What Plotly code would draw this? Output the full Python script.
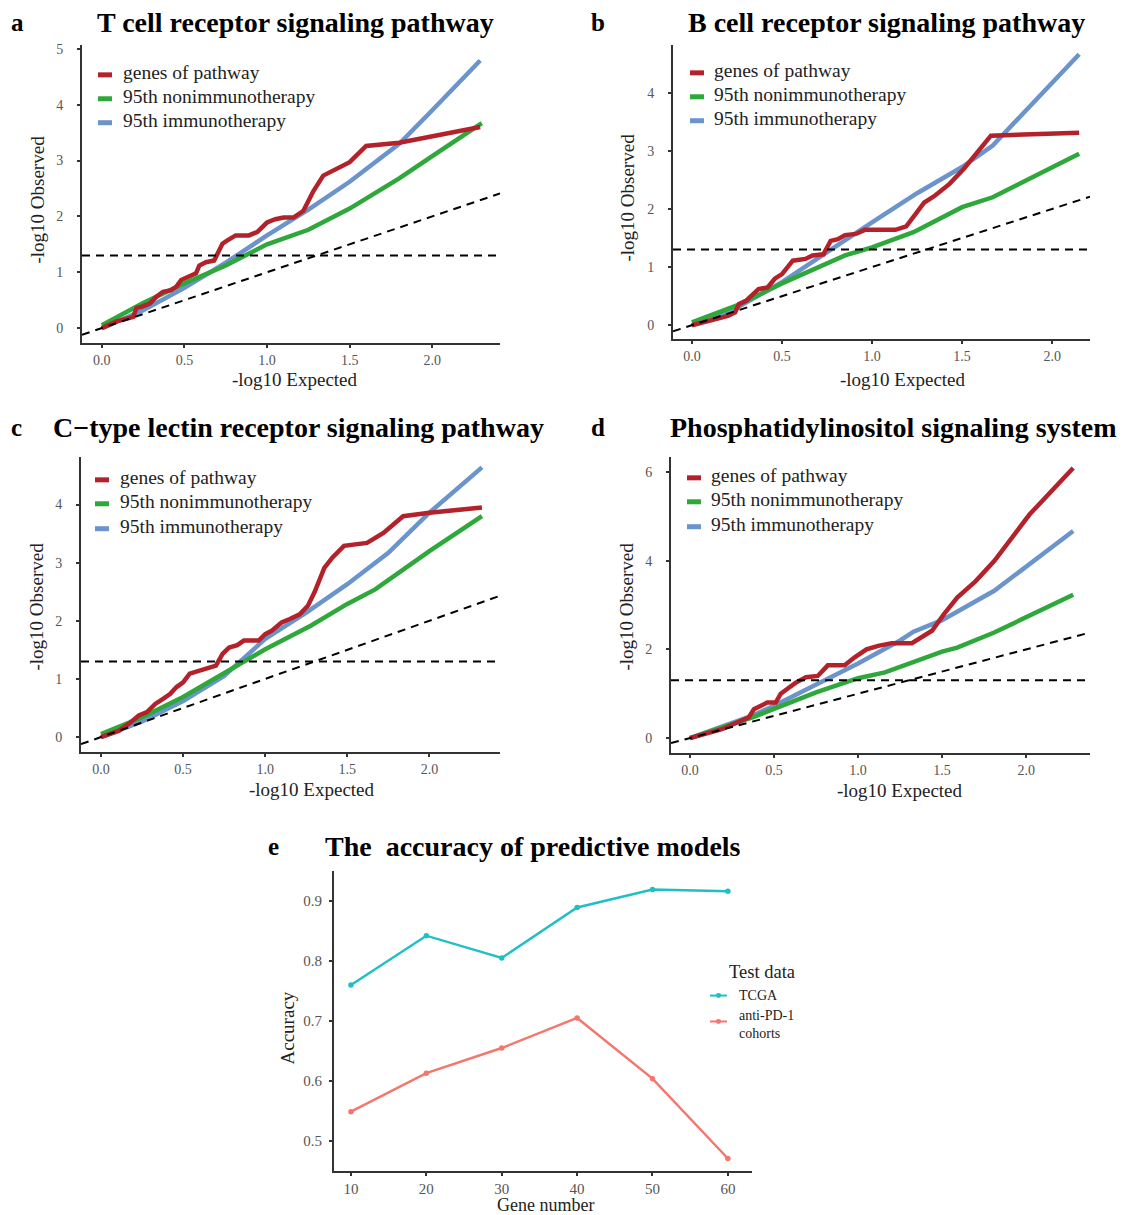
import math
import plotly.graph_objects as go

# page offset of the plot div (default body margin of the html page)
OFF = 8
W, H = 1126 - OFF, 1215 - OFF
FONT = "Liberation Serif"

# ---------------- data ----------------
series_names = ["genes of pathway", "95th nonimmunotherapy", "95th immunotherapy"]
tick_qq = [0.0, 0.5, 1.0, 1.5, 2.0]
sig_level = -math.log10(0.05)

# Panel a: T cell receptor signaling pathway
a_red_x = [0, 0.09, 0.19, 0.21, 0.24, 0.29, 0.33, 0.37, 0.42, 0.45, 0.48, 0.53, 0.57, 0.59, 0.63, 0.68,
           0.71, 0.73, 0.76, 0.81, 0.89, 0.94, 1.0, 1.05, 1.1, 1.16, 1.22, 1.28, 1.34, 1.45, 1.5, 1.6, 1.8, 2.29]
a_red_y = [0, 0.12, 0.2, 0.36, 0.38, 0.44, 0.56, 0.65, 0.68, 0.74, 0.86, 0.92, 0.98, 1.12, 1.18, 1.21,
           1.42, 1.51, 1.57, 1.66, 1.66, 1.72, 1.89, 1.95, 1.98, 1.98, 2.1, 2.45, 2.73, 2.88, 2.97, 3.26, 3.32, 3.6]
a_green_x = [0, 0.25, 0.5, 0.75, 1.0, 1.25, 1.5, 1.6, 1.8, 2.0, 2.3]
a_green_y = [0.05, 0.45, 0.8, 1.12, 1.5, 1.76, 2.14, 2.32, 2.68, 3.08, 3.67]
a_blue_x = [0, 0.25, 0.5, 0.75, 1.0, 1.25, 1.5, 1.6, 1.8, 2.0, 2.29]
a_blue_y = [0, 0.32, 0.72, 1.17, 1.66, 2.12, 2.62, 2.85, 3.3, 3.9, 4.79]

# Panel b: B cell receptor signaling pathway
b_red_x = [0, 0.1, 0.2, 0.24, 0.26, 0.3, 0.34, 0.37, 0.42, 0.46, 0.5, 0.56, 0.63, 0.67, 0.73, 0.77,
           0.81, 0.85, 0.91, 0.96, 1.07, 1.13, 1.19, 1.25, 1.29, 1.35, 1.43, 1.51, 1.59, 1.66, 2.15]
b_red_y = [0, 0.075, 0.16, 0.22, 0.36, 0.42, 0.53, 0.62, 0.65, 0.8, 0.88, 1.11, 1.14, 1.2, 1.22, 1.45,
           1.48, 1.55, 1.57, 1.64, 1.64, 1.64, 1.7, 1.94, 2.11, 2.23, 2.43, 2.69, 2.98, 3.26, 3.31]
b_green_x = [0, 0.25, 0.5, 0.85, 1.0, 1.23, 1.5, 1.67, 2.15]
b_green_y = [0.05, 0.34, 0.72, 1.2, 1.34, 1.6, 2.03, 2.2, 2.95]
b_blue_x = [0, 0.25, 0.5, 0.75, 1.0, 1.25, 1.5, 1.67, 2.15]
b_blue_y = [0, 0.3, 0.74, 1.26, 1.77, 2.27, 2.72, 3.09, 4.66]

# Panel c: C-type lectin receptor signaling pathway
c_red_x = [0, 0.11, 0.17, 0.23, 0.28, 0.33, 0.38, 0.42, 0.46, 0.5, 0.54, 0.6, 0.65, 0.7, 0.74, 0.78,
           0.83, 0.87, 0.96, 1.0, 1.04, 1.1, 1.15, 1.21, 1.26, 1.3, 1.36, 1.41, 1.48, 1.62, 1.72, 1.84, 2.0, 2.32]
c_red_y = [0, 0.11, 0.23, 0.37, 0.43, 0.57, 0.66, 0.74, 0.86, 0.94, 1.09, 1.15, 1.2, 1.23, 1.43, 1.54,
           1.58, 1.66, 1.66, 1.77, 1.83, 1.97, 2.03, 2.11, 2.26, 2.49, 2.91, 3.09, 3.29, 3.34, 3.51, 3.8, 3.86, 3.95]
c_green_x = [0, 0.25, 0.5, 0.75, 1.0, 1.28, 1.5, 1.67, 2.0, 2.32]
c_green_y = [0.05, 0.34, 0.69, 1.09, 1.51, 1.92, 2.29, 2.54, 3.2, 3.8]
c_blue_x = [0, 0.25, 0.5, 0.75, 1.0, 1.25, 1.5, 1.75, 2.0, 2.32]
c_blue_y = [0, 0.27, 0.62, 1.05, 1.69, 2.14, 2.63, 3.17, 3.86, 4.64]

# Panel d: Phosphatidylinositol signaling system
d_red_x = [0, 0.09, 0.19, 0.28, 0.35, 0.38, 0.42, 0.46, 0.51, 0.54, 0.59, 0.63, 0.69, 0.76, 0.82, 0.92,
           0.98, 1.05, 1.12, 1.2, 1.32, 1.38, 1.44, 1.51, 1.59, 1.7, 1.81, 2.02, 2.28]
d_red_y = [0, 0.09, 0.2, 0.35, 0.47, 0.65, 0.73, 0.8, 0.8, 1.0, 1.14, 1.25, 1.37, 1.4, 1.64, 1.64,
           1.82, 2.0, 2.08, 2.14, 2.14, 2.27, 2.42, 2.79, 3.17, 3.54, 3.99, 5.04, 6.09]
d_green_x = [0, 0.38, 0.5, 0.75, 1.0, 1.16, 1.5, 1.59, 1.81, 2.28]
d_green_y = [0, 0.48, 0.66, 1.03, 1.35, 1.48, 1.95, 2.04, 2.38, 3.23]
d_blue_x = [0, 0.38, 0.5, 0.75, 1.0, 1.25, 1.33, 1.5, 1.81, 2.28]
d_blue_y = [0, 0.52, 0.73, 1.2, 1.68, 2.2, 2.4, 2.66, 3.32, 4.67]

# Panel e: accuracy of predictive models
gene_number = [10, 20, 30, 40, 50, 60]
acc_tcga = [0.760, 0.842, 0.805, 0.889, 0.919, 0.916]
acc_pd1 = [0.549, 0.613, 0.655, 0.705, 0.604, 0.471]
acc_ticks = [0.5, 0.6, 0.7, 0.8, 0.9]

# ---------------- styling ----------------
RED, GREEN, BLUE = "#B3222A", "#2EA83A", "#6C94CC"
TEAL, SALMON = "#1FBFC4", "#F4766D"
AXC = "#333333"


def px(x):
    return (x - OFF) / W


def py(y):
    return 1 - (y - OFF) / H


panels = [
    dict(letter="a", title="T cell receptor signaling pathway", lx=17, tcx=295, ty=20,
         dx=(82, 500), dy=(341, 42), xr=(-0.12, 2.41), yr=(-0.27, 5.07), yt=[0, 1, 2, 3, 4, 5],
         data=[(a_blue_x, a_blue_y), (a_green_x, a_green_y), (a_red_x, a_red_y)],
         leg=(98, 112, 121, [70, 94, 118]), obs=(38, 197), expd=(295, 377)),
    dict(letter="b", title="B cell receptor signaling pathway", lx=598, tcx=886, ty=20,
         dx=(673, 1090), dy=(337, 42), xr=(-0.105, 2.21), yr=(-0.24, 4.82), yt=[0, 1, 2, 3, 4],
         data=[(b_blue_x, b_blue_y), (b_green_x, b_green_y), (b_red_x, b_red_y)],
         leg=(690, 704, 712, [68, 92, 116]), obs=(628, 195), expd=(903, 377)),
    dict(letter="c", title="C\u2212type lectin receptor signaling pathway", lx=16, tcx=298, ty=426,
         dx=(81, 500), dy=(751, 455), xr=(-0.122, 2.43), yr=(-0.26, 4.82), yt=[0, 1, 2, 3, 4],
         data=[(c_blue_x, c_blue_y), (c_green_x, c_green_y), (c_red_x, c_red_y)],
         leg=(95, 109, 118, [476, 500, 525]), obs=(37, 605), expd=(312, 788)),
    dict(letter="d", title="Phosphatidylinositol signaling system", lx=598, tcx=893, ty=426,
         dx=(671, 1090), dy=(752, 455), xr=(-0.113, 2.38), yr=(-0.34, 6.34), yt=[0, 2, 4, 6],
         data=[(d_blue_x, d_blue_y), (d_green_x, d_green_y), (d_red_x, d_red_y)],
         leg=(687, 701, 709, [474, 498, 523]), obs=(627, 605), expd=(900, 789)),
]

fig = go.Figure()
layout = dict(width=W, height=H, autosize=False, margin=dict(l=0, r=0, t=0, b=0, pad=0),
              paper_bgcolor="white", plot_bgcolor="white", showlegend=False,
              font=dict(family=FONT, color="#222"))
shapes, annotations = [], []

axis_common = dict(showline=True, linecolor=AXC, linewidth=2, ticks="outside", ticklen=3,
                   tickcolor=AXC, tickwidth=1.5, showgrid=False, zeroline=False,
                   tickfont=dict(family=FONT, size=14, color="#555555"))

line_colors = [BLUE, GREEN, RED]
TITLE_SIZE, LETTER_SIZE, LEG_SIZE, AX_SIZE = 28, 25, 19.5, 19

for i, p in enumerate(panels, start=1):
    xa = "x" if i == 1 else f"x{i}"
    ya = "y" if i == 1 else f"y{i}"
    layout["xaxis" if i == 1 else f"xaxis{i}"] = dict(
        axis_common, domain=[px(p["dx"][0]), px(p["dx"][1])], range=list(p["xr"]),
        anchor=ya, tickvals=tick_qq, tickformat=".1f", ticklabelstandoff=0)
    layout["yaxis" if i == 1 else f"yaxis{i}"] = dict(
        axis_common, domain=[py(p["dy"][0]), py(p["dy"][1])], range=list(p["yr"]),
        anchor=xa, tickvals=p["yt"], ticklabelstandoff=11)
    for (xs, ys), col in zip(p["data"], line_colors):
        fig.add_trace(go.Scatter(x=xs, y=ys, mode="lines", xaxis=xa, yaxis=ya,
                                 line=dict(color=col, width=4.5), hoverinfo="skip"))
    # reference lines
    fig.add_trace(go.Scatter(x=list(p["xr"]), y=[sig_level, sig_level], mode="lines", xaxis=xa, yaxis=ya,
                             line=dict(color="black", width=2, dash="8px,6px"), hoverinfo="skip"))
    fig.add_trace(go.Scatter(x=list(p["xr"]), y=list(p["xr"]), mode="lines", xaxis=xa, yaxis=ya,
                             line=dict(color="black", width=2, dash="8px,6px"), hoverinfo="skip"))
    # titles
    annotations.append(dict(x=px(p["lx"]), y=py(p["ty"]), xref="paper", yref="paper", text=f"<b>{p['letter']}</b>",
                            showarrow=False, xanchor="center", yanchor="middle",
                            font=dict(family=FONT, size=LETTER_SIZE, color="black")))
    annotations.append(dict(x=px(p["tcx"]), y=py(p["ty"]), xref="paper", yref="paper", text=f"<b>{p['title']}</b>",
                            showarrow=False, xanchor="center", yanchor="middle",
                            font=dict(family=FONT, size=TITLE_SIZE, color="black")))
    # axis titles
    annotations.append(dict(x=px(p["obs"][0]), y=py(p["obs"][1]), xref="paper", yref="paper",
                            text="-log10 Observed", textangle=-90, showarrow=False,
                            xanchor="center", yanchor="middle", font=dict(family=FONT, size=AX_SIZE, color="#222")))
    annotations.append(dict(x=px(p["expd"][0]), y=py(p["expd"][1]), xref="paper", yref="paper",
                            text="-log10 Expected", showarrow=False,
                            xanchor="center", yanchor="middle", font=dict(family=FONT, size=AX_SIZE, color="#222")))
    # legend
    k0, k1, tx, rows = p["leg"]
    for name, col, ry in zip(series_names, [RED, GREEN, BLUE], rows):
        shapes.append(dict(type="line", xref="paper", yref="paper", x0=px(k0), x1=px(k1),
                           y0=py(ry + 2), y1=py(ry + 2), line=dict(color=col, width=5)))
        annotations.append(dict(x=px(tx), y=py(ry), xref="paper", yref="paper", text=name, showarrow=False,
                                xanchor="left", yanchor="middle", font=dict(family=FONT, size=LEG_SIZE, color="#222")))

# Panel e
layout["xaxis5"] = dict(axis_common, domain=[px(334), px(752)], range=[7.75, 63.2], anchor="y5",
                        tickvals=gene_number, ticklabelstandoff=0,
                        tickfont=dict(family=FONT, size=15, color="#555555"))
layout["yaxis5"] = dict(axis_common, domain=[py(1171), py(870)], range=[0.45, 0.95], anchor="x5",
                        tickvals=acc_ticks, tickformat=".1f", ticklabelstandoff=4,
                        tickfont=dict(family=FONT, size=15, color="#555555"))
fig.add_trace(go.Scatter(x=gene_number, y=acc_tcga, mode="lines+markers", xaxis="x5", yaxis="y5",
                         line=dict(color=TEAL, width=2.4), marker=dict(color=TEAL, size=5.5), name="TCGA"))
fig.add_trace(go.Scatter(x=gene_number, y=acc_pd1, mode="lines+markers", xaxis="x5", yaxis="y5",
                         line=dict(color=SALMON, width=2.4), marker=dict(color=SALMON, size=5.5),
                         name="anti-PD-1 cohorts"))
annotations.append(dict(x=px(273), y=py(846), xref="paper", yref="paper", text="<b>e</b>", showarrow=False,
                        xanchor="center", yanchor="middle", font=dict(family=FONT, size=LETTER_SIZE, color="black")))
annotations.append(dict(x=px(533), y=py(846), xref="paper", yref="paper",
                        text="<b>The  accuracy of predictive models</b>", showarrow=False,
                        xanchor="center", yanchor="middle", font=dict(family=FONT, size=TITLE_SIZE, color="black")))
annotations.append(dict(x=px(287), y=py(1028), xref="paper", yref="paper", text="Accuracy", textangle=-90,
                        showarrow=False, xanchor="center", yanchor="middle",
                        font=dict(family=FONT, size=19, color="#222")))
annotations.append(dict(x=px(545), y=py(1205), xref="paper", yref="paper", text="Gene number",
                        showarrow=False, xanchor="center", yanchor="middle",
                        font=dict(family=FONT, size=18, color="#222")))
# legend e
annotations.append(dict(x=px(727), y=py(971), xref="paper", yref="paper", text="Test data", showarrow=False,
                        xanchor="left", yanchor="middle", font=dict(family=FONT, size=18.5, color="#222")))
for label, col, ry, ty in [("TCGA", TEAL, 995, 995), ("anti-PD-1<br>cohorts", SALMON, 1021, 1024)]:
    shapes.append(dict(type="line", xref="paper", yref="paper", x0=px(710), x1=px(727), y0=py(ry), y1=py(ry),
                       line=dict(color=col, width=2)))
    shapes.append(dict(type="circle", xref="paper", yref="paper", x0=px(716), x1=px(721),
                       y0=py(ry - 2.5), y1=py(ry + 2.5), fillcolor=col, line=dict(color=col, width=0)))
    annotations.append(dict(x=px(737), y=py(ty), xref="paper", yref="paper", text=label, showarrow=False,
                            xanchor="left", yanchor="middle", align="left",
                            font=dict(family=FONT, size=14, color="#222")))

layout["shapes"] = shapes
layout["annotations"] = annotations
fig.update_layout(**layout)
fig.write_html("out.html")
